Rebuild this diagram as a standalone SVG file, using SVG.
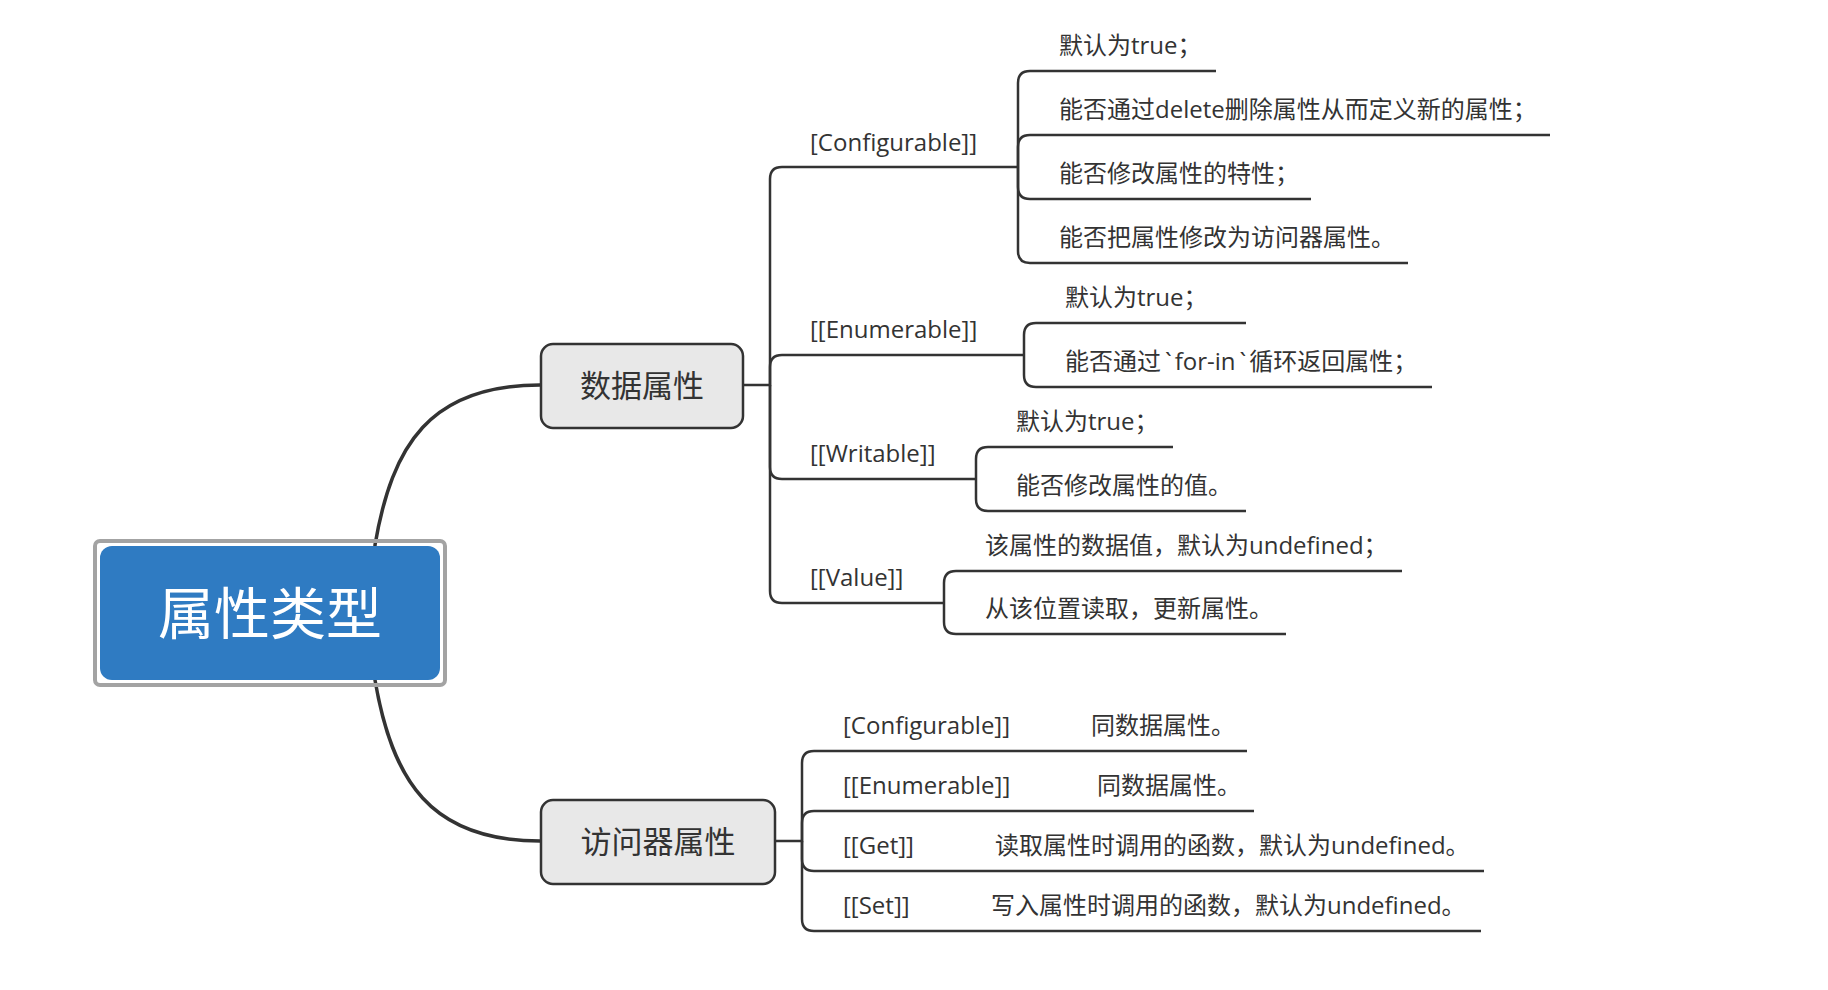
<svg xmlns="http://www.w3.org/2000/svg" width="1828" height="990" viewBox="0 0 1828 990">
<style>
.t{font-family:"Open Sans","Noto Sans CJK SC",sans-serif;font-size:24px;fill:#333}
.n{font-family:"Open Sans","Noto Sans CJK SC",sans-serif;font-size:31px;fill:#333;text-anchor:middle}
.c{fill:none;stroke:#333;stroke-width:2.5}
.m{fill:none;stroke:#333;stroke-width:3.5}
.box{fill:#e8e8e8;stroke:#333;stroke-width:2.5}
</style>
<rect width="1828" height="990" fill="#fff"/>
<g id="connectors">
<path class="m" d="M375,600 L375,545 C392,445 430,385 540,385"/>
<path class="m" d="M375,625 L375,680 C392,780 430,841 540,841"/>
<path class="c" d="M744,385 H770 V179 Q770,167 782,167 H1018"/>
<path class="c" d="M770,385 V367 Q770,355 782,355 H1024"/>
<path class="c" d="M770,385 V467 Q770,479 782,479 H976"/>
<path class="c" d="M770,385 V591 Q770,603 782,603 H944"/>
<path class="c" d="M1018,167 V83 Q1018,71 1030,71 H1216"/>
<path class="c" d="M1018,167 V147 Q1018,135 1030,135 H1550"/>
<path class="c" d="M1018,167 V187 Q1018,199 1030,199 H1311"/>
<path class="c" d="M1018,167 V251 Q1018,263 1030,263 H1408"/>
<path class="c" d="M1024,355 V335 Q1024,323 1036,323 H1246"/>
<path class="c" d="M1024,355 V375 Q1024,387 1036,387 H1432"/>
<path class="c" d="M976,479 V459 Q976,447 988,447 H1173"/>
<path class="c" d="M976,479 V499 Q976,511 988,511 H1246"/>
<path class="c" d="M944,603 V583 Q944,571 956,571 H1402"/>
<path class="c" d="M944,603 V622 Q944,634 956,634 H1286"/>
<path class="c" d="M775,841 H802 V763 Q802,751 814,751 H1247"/>
<path class="c" d="M802,841 V823 Q802,811 814,811 H1254"/>
<path class="c" d="M802,841 V859 Q802,871 814,871 H1484"/>
<path class="c" d="M802,841 V919 Q802,931 814,931 H1481"/>
</g>
<g id="root">
<rect x="100" y="546" width="340" height="134" rx="12" fill="#2f7bc2"/>
<rect x="95" y="541" width="350" height="144" rx="5" fill="none" stroke="#a3a3a3" stroke-width="4"/>
<text x="270" y="634" font-family="Open Sans,Noto Sans CJK SC,sans-serif" font-size="56" fill="#fff" text-anchor="middle">属性类型</text>
</g>
<g id="data">
<rect class="box" x="541" y="344" width="202" height="84" rx="12"/>
<text class="n" x="642" y="397">数据属性</text>
</g>
<g id="accessor">
<rect class="box" x="541" y="800" width="234" height="84" rx="12"/>
<text class="n" x="658" y="853">访问器属性</text>
</g>
<g id="d-configurable">
<text class="t" x="810" y="151">[Configurable]]</text>
<text class="t" x="1059" y="54">默认为true；</text>
<text class="t" x="1059" y="118">能否通过delete删除属性从而定义新的属性；</text>
<text class="t" x="1059" y="182">能否修改属性的特性；</text>
<text class="t" x="1059" y="246">能否把属性修改为访问器属性。</text>
</g>
<g id="d-enumerable">
<text class="t" x="810" y="338">[[Enumerable]]</text>
<text class="t" x="1065" y="306">默认为true；</text>
<text class="t" x="1065" y="370">能否通过<tspan dx="4">`</tspan><tspan dx="3">for-in</tspan><tspan dx="4">`</tspan><tspan dx="3">循环返回属性；</tspan></text>
</g>
<g id="d-writable">
<text class="t" x="810" y="462">[[Writable]]</text>
<text class="t" x="1016" y="430">默认为true；</text>
<text class="t" x="1016" y="494">能否修改属性的值。</text>
</g>
<g id="d-value">
<text class="t" x="810" y="586">[[Value]]</text>
<text class="t" x="985" y="554">该属性的数据值，默认为undefined；</text>
<text class="t" x="985" y="617">从该位置读取，更新属性。</text>
</g>
<g id="a-configurable">
<text class="t" x="843" y="734">[Configurable]]</text>
<text class="t" x="1091" y="734">同数据属性。</text>
</g>
<g id="a-enumerable">
<text class="t" x="843" y="794">[[Enumerable]]</text>
<text class="t" x="1097" y="794">同数据属性。</text>
</g>
<g id="a-get">
<text class="t" x="843" y="854">[[Get]]</text>
<text class="t" x="995" y="854">读取属性时调用的函数，默认为undefined。</text>
</g>
<g id="a-set">
<text class="t" x="843" y="914">[[Set]]</text>
<text class="t" x="991" y="914">写入属性时调用的函数，默认为undefined。</text>
</g>
</svg>
